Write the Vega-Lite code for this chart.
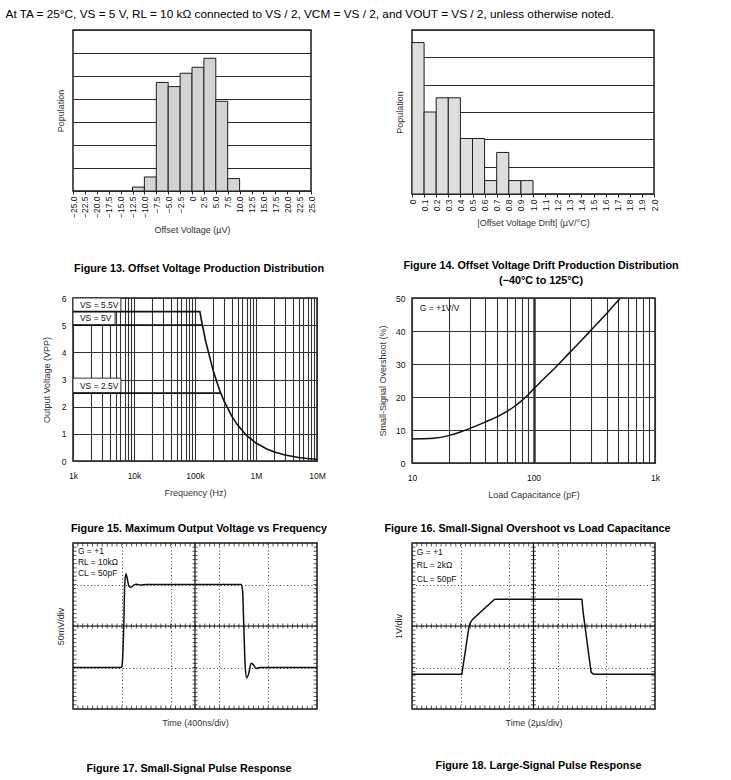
{
  "$schema": "https://vega.github.io/schema/vega-lite/v6.json",
  "background": "white",
  "padding": {"left": 5, "top": 9, "right": 5, "bottom": 5},
  "title": {"text": "At TA = 25°C, VS = 5 V, RL = 10 kΩ connected to VS / 2, VCM = VS / 2, and VOUT = VS / 2, unless otherwise noted.", "anchor": "start", "fontSize": 11.8, "fontWeight": "normal", "color": "#000", "offset": 8, "dx": -36},
  "datasets": {
    "h13": [
      {"x0": -12.5, "x1": -10, "n": 0.17},
      {"x0": -10, "x1": -7.5, "n": 0.61},
      {"x0": -7.5, "x1": -5, "n": 4.72},
      {"x0": -5, "x1": -2.5, "n": 4.54},
      {"x0": -2.5, "x1": 0, "n": 5.12},
      {"x0": 0, "x1": 2.5, "n": 5.38},
      {"x0": 2.5, "x1": 5, "n": 5.77},
      {"x0": 5, "x1": 7.5, "n": 3.9},
      {"x0": 7.5, "x1": 10, "n": 0.54}
    ],
    "h14": [
      {"x0": 0, "x1": 0.1, "n": 5.54},
      {"x0": 0.1, "x1": 0.2, "n": 3.0},
      {"x0": 0.2, "x1": 0.3, "n": 3.52},
      {"x0": 0.3, "x1": 0.4, "n": 3.52},
      {"x0": 0.4, "x1": 0.5, "n": 2.03},
      {"x0": 0.5, "x1": 0.6, "n": 2.03},
      {"x0": 0.6, "x1": 0.7, "n": 0.49},
      {"x0": 0.7, "x1": 0.8, "n": 1.52},
      {"x0": 0.8, "x1": 0.9, "n": 0.49},
      {"x0": 0.9, "x1": 1.0, "n": 0.49}
    ],
    "f15": [
      {"s": "5.5V", "f": 1000, "v": 5.5},
      {"s": "5.5V", "f": 120000, "v": 5.5},
      {"s": "5.5V", "f": 130000, "v": 5.08},
      {"s": "5.5V", "f": 150000, "v": 4.4},
      {"s": "5.5V", "f": 200000, "v": 3.3},
      {"s": "5.5V", "f": 250000, "v": 2.64},
      {"s": "5.5V", "f": 300000, "v": 2.2},
      {"s": "5.5V", "f": 400000, "v": 1.65},
      {"s": "5.5V", "f": 500000, "v": 1.32},
      {"s": "5.5V", "f": 700000, "v": 0.94},
      {"s": "5.5V", "f": 1000000, "v": 0.66},
      {"s": "5.5V", "f": 1500000, "v": 0.44},
      {"s": "5.5V", "f": 2000000, "v": 0.33},
      {"s": "5.5V", "f": 3000000, "v": 0.22},
      {"s": "5.5V", "f": 5000000, "v": 0.13},
      {"s": "5.5V", "f": 7000000, "v": 0.094},
      {"s": "5.5V", "f": 10000000, "v": 0.066},
      {"s": "5V", "f": 1000, "v": 5.0},
      {"s": "5V", "f": 132000, "v": 5.0},
      {"s": "2.5V", "f": 1000, "v": 2.5},
      {"s": "2.5V", "f": 264000, "v": 2.5}
    ],
    "f15box": [
      {"x0": 1000, "x1": 6100, "y0": 5.5, "y1": 6.0, "tx": 1300, "ty": 5.75, "lbl": "VS = 5.5V"},
      {"x0": 1000, "x1": 4900, "y0": 5.0, "y1": 5.5, "tx": 1300, "ty": 5.25, "lbl": "VS = 5V"},
      {"x0": 1000, "x1": 6100, "y0": 2.5, "y1": 3.05, "tx": 1300, "ty": 2.77, "lbl": "VS = 2.5V"}
    ],
    "f16": [
      {"c": 10, "o": 7.3}, {"c": 12, "o": 7.35}, {"c": 15, "o": 7.5}, {"c": 20, "o": 8.3},
      {"c": 25, "o": 9.4}, {"c": 30, "o": 10.5}, {"c": 40, "o": 12.4}, {"c": 50, "o": 14.0},
      {"c": 60, "o": 15.6}, {"c": 70, "o": 17.2}, {"c": 80, "o": 18.9}, {"c": 90, "o": 20.6},
      {"c": 100, "o": 22.4}, {"c": 120, "o": 25.3}, {"c": 150, "o": 28.8}, {"c": 200, "o": 33.6},
      {"c": 250, "o": 37.3}, {"c": 300, "o": 40.4}, {"c": 400, "o": 45.3}, {"c": 500, "o": 49.3},
      {"c": 520, "o": 50.0}
    ],
    "f16txt": [{"tx": 11.6, "ty": 47, "lbl": "G = +1V/V"}],
    "f17": [
      {"t": 0, "v": -2}, {"t": 1.98, "v": -2}, {"t": 2.02, "v": -1.8}, {"t": 2.08, "v": 0},
      {"t": 2.12, "v": 2.0}, {"t": 2.17, "v": 2.52}, {"t": 2.22, "v": 2.3}, {"t": 2.3, "v": 1.9},
      {"t": 2.38, "v": 1.87}, {"t": 2.5, "v": 1.98}, {"t": 2.62, "v": 2.01}, {"t": 2.75, "v": 1.98},
      {"t": 3, "v": 2.0}, {"t": 6.9, "v": 2.0}, {"t": 6.95, "v": 1.7}, {"t": 7.0, "v": 0},
      {"t": 7.06, "v": -2.0}, {"t": 7.12, "v": -2.5}, {"t": 7.2, "v": -2.3}, {"t": 7.3, "v": -1.8},
      {"t": 7.38, "v": -1.85}, {"t": 7.5, "v": -2.05}, {"t": 7.65, "v": -2.0}, {"t": 10, "v": -2}
    ],
    "f17txt": [
      {"tx": 0.2, "ty": 3.6, "lbl": "G = +1"},
      {"tx": 0.2, "ty": 3.08, "lbl": "RL = 10kΩ"},
      {"tx": 0.2, "ty": 2.57, "lbl": "CL = 50pF"}
    ],
    "f18": [
      {"t": 0, "v": -2.33}, {"t": 2.05, "v": -2.33}, {"t": 2.35, "v": 0.0}, {"t": 2.42, "v": 0.2},
      {"t": 2.5, "v": 0.33}, {"t": 3.4, "v": 1.29}, {"t": 6.99, "v": 1.29}, {"t": 7.05, "v": 0.6},
      {"t": 7.37, "v": -2.22}, {"t": 7.45, "v": -2.31}, {"t": 7.55, "v": -2.33}, {"t": 10, "v": -2.33}
    ],
    "f18txt": [
      {"tx": 0.2, "ty": 3.57, "lbl": "G = +1"},
      {"tx": 0.2, "ty": 2.92, "lbl": "RL = 2kΩ"},
      {"tx": 0.2, "ty": 2.25, "lbl": "CL = 50pF"}
    ],
    "tx": [
      {"v": 0.2}, {"v": 0.4}, {"v": 0.6}, {"v": 0.8}, {"v": 1}, {"v": 1.2}, {"v": 1.4}, {"v": 1.6}, {"v": 1.8}, {"v": 2},
      {"v": 2.2}, {"v": 2.4}, {"v": 2.6}, {"v": 2.8}, {"v": 3}, {"v": 3.2}, {"v": 3.4}, {"v": 3.6}, {"v": 3.8}, {"v": 4},
      {"v": 4.2}, {"v": 4.4}, {"v": 4.6}, {"v": 4.8}, {"v": 5}, {"v": 5.2}, {"v": 5.4}, {"v": 5.6}, {"v": 5.8}, {"v": 6},
      {"v": 6.2}, {"v": 6.4}, {"v": 6.6}, {"v": 6.8}, {"v": 7}, {"v": 7.2}, {"v": 7.4}, {"v": 7.6}, {"v": 7.8}, {"v": 8},
      {"v": 8.2}, {"v": 8.4}, {"v": 8.6}, {"v": 8.8}, {"v": 9}, {"v": 9.2}, {"v": 9.4}, {"v": 9.6}, {"v": 9.8}
    ],
    "ty": [
      {"v": -3.8}, {"v": -3.6}, {"v": -3.4}, {"v": -3.2}, {"v": -3}, {"v": -2.8}, {"v": -2.6}, {"v": -2.4}, {"v": -2.2}, {"v": -2},
      {"v": -1.8}, {"v": -1.6}, {"v": -1.4}, {"v": -1.2}, {"v": -1}, {"v": -0.8}, {"v": -0.6}, {"v": -0.4}, {"v": -0.2}, {"v": 0},
      {"v": 0.2}, {"v": 0.4}, {"v": 0.6}, {"v": 0.8}, {"v": 1}, {"v": 1.2}, {"v": 1.4}, {"v": 1.6}, {"v": 1.8}, {"v": 2},
      {"v": 2.2}, {"v": 2.4}, {"v": 2.6}, {"v": 2.8}, {"v": 3}, {"v": 3.2}, {"v": 3.4}, {"v": 3.6}, {"v": 3.8}
    ]
  },
  "columns": 2,
  "spacing": {"row": 6, "column": 47},
  "concat": [
    {
      "width": 238, "height": 161,
      "title": {"text": "Figure 13.  Offset Voltage Production Distribution", "orient": "bottom", "offset": 28, "frame": "group", "dx": 7},
      "data": {"name": "h13"},
      "mark": {"type": "rect", "fill": "#d3d3d3", "stroke": "#1e1e1e", "strokeWidth": 1},
      "encoding": {
        "x": {"field": "x0", "type": "quantitative", "scale": {"domain": [-25, 25], "nice": false, "zero": false},
          "axis": {"title": "Offset Voltage (µV)", "values": [-25, -22.5, -20, -17.5, -15, -12.5, -10, -7.5, -5, -2.5, 0, 2.5, 5, 7.5, 10, 12.5, 15, 17.5, 20, 22.5, 25],
            "labelAngle": -90, "labelAlign": "right", "labelBaseline": "middle", "labelExpr": "datum.value == 0 ? '0' : format(datum.value, '.1f')",
            "labelOverlap": false, "labelFlush": false, "labelBound": false, "grid": false, "ticks": true, "tickSize": 3, "tickColor": "#222", "labelPadding": 2, "titlePadding": 8}},
        "x2": {"field": "x1"},
        "y": {"field": "n", "type": "quantitative", "scale": {"domain": [0, 7], "nice": false},
          "axis": {"title": "Population", "values": [0, 1, 2, 3, 4, 5, 6, 7], "labels": false, "ticks": false, "grid": true, "gridColor": "#2a2a2a", "titlePadding": 8}},
        "y2": {"datum": 0}
      }
    },
    {
      "width": 242, "height": 164,
      "title": {"text": ["Figure 14.  Offset Voltage Drift Production Distribution", "(−40°C to 125°C)"], "orient": "bottom", "offset": 32, "frame": "group", "dx": 8, "lineHeight": 15},
      "data": {"name": "h14"},
      "mark": {"type": "rect", "fill": "#dedede", "stroke": "#1e1e1e", "strokeWidth": 1},
      "encoding": {
        "x": {"field": "x0", "type": "quantitative", "scale": {"domain": [0, 2], "nice": false, "zero": false},
          "axis": {"title": "|Offset Voltage Drift|  (µV/°C)", "values": [0, 0.1, 0.2, 0.3, 0.4, 0.5, 0.6, 0.7, 0.8, 0.9, 1.0, 1.1, 1.2, 1.3, 1.4, 1.5, 1.6, 1.7, 1.8, 1.9, 2.0],
            "labelAngle": -90, "labelAlign": "right", "labelBaseline": "middle", "labelExpr": "datum.value == 0 ? '0' : format(datum.value, '.1f')",
            "labelOverlap": false, "labelFlush": false, "labelBound": false, "grid": false, "ticks": true, "tickSize": 3, "tickColor": "#222", "labelPadding": 2, "titlePadding": 8}},
        "x2": {"field": "x1"},
        "y": {"field": "n", "type": "quantitative", "scale": {"domain": [0, 6], "nice": false},
          "axis": {"title": "Population", "values": [0, 1, 2, 3, 4, 5, 6], "labels": false, "ticks": false, "grid": true, "gridColor": "#2a2a2a", "titlePadding": 8}},
        "y2": {"datum": 0}
      }
    },
    {
      "width": 244, "height": 163,
      "title": {"text": "Figure 15.  Maximum Output Voltage vs Frequency", "orient": "bottom", "offset": 25, "frame": "group", "dx": 4},
      "layer": [
        {
          "data": {"name": "f15box"},
          "mark": {"type": "rect", "fill": "white", "stroke": "#333", "strokeWidth": 1},
          "encoding": {
            "x": {"field": "x0", "type": "quantitative", "title": "Frequency (Hz)", "scale": {"type": "log", "domain": [1000, 10000000], "nice": false},
              "axis": {"values": [1000, 2000, 3000, 4000, 5000, 6000, 7000, 8000, 9000, 10000, 20000, 30000, 40000, 50000, 60000, 70000, 80000, 90000, 100000, 200000, 300000, 400000, 500000, 600000, 700000, 800000, 900000, 1000000, 2000000, 3000000, 4000000, 5000000, 6000000, 7000000, 8000000, 9000000, 10000000],
                "labelExpr": "datum.value == 1000 ? '1k' : datum.value == 10000 ? '10k' : datum.value == 100000 ? '100k' : datum.value == 1000000 ? '1M' : datum.value == 10000000 ? '10M' : ''",
                "labelOverlap": false, "labelFlush": false, "labelBound": false, "ticks": false, "labelPadding": 10, "grid": true, "gridColor": "#333", "gridWidth": 1.1, "titlePadding": 9}},
            "x2": {"field": "x1"},
            "y": {"field": "y0", "type": "quantitative", "title": "Output Voltage (VPP)", "scale": {"domain": [0, 6], "nice": false},
              "axis": {"values": [0, 1, 2, 3, 4, 5, 6], "tickCount": 7, "labelOverlap": false, "labelFlush": false, "labelBound": false, "ticks": false, "labelPadding": 7, "grid": true, "gridColor": "#333", "gridWidth": 1.1, "titlePadding": 10}},
            "y2": {"field": "y1"}
          }
        },
        {
          "data": {"name": "f15"},
          "mark": {"type": "line", "color": "#111", "strokeWidth": 1.6},
          "encoding": {
            "x": {"field": "f", "type": "quantitative", "title": "Frequency (Hz)", "scale": {"type": "log"}},
            "y": {"field": "v", "type": "quantitative", "title": "Output Voltage (VPP)",
              "axis": {"values": [0, 1, 2, 3, 4, 5, 6], "tickCount": 7, "labelOverlap": false, "labelFlush": false, "labelBound": false, "ticks": false, "labelPadding": 7, "grid": true, "gridColor": "#333", "gridWidth": 1.1, "titlePadding": 10}},
            "detail": {"field": "s"}
          }
        },
        {
          "data": {"name": "f15box"},
          "mark": {"type": "text", "align": "left", "baseline": "middle", "fontSize": 8.5, "color": "#111"},
          "encoding": {
            "x": {"field": "tx", "type": "quantitative", "title": "Frequency (Hz)", "scale": {"type": "log"}},
            "y": {"field": "ty", "type": "quantitative", "title": "Output Voltage (VPP)",
              "axis": {"values": [0, 1, 2, 3, 4, 5, 6], "tickCount": 7, "labelOverlap": false, "labelFlush": false, "labelBound": false, "ticks": false, "labelPadding": 7, "grid": true, "gridColor": "#333", "gridWidth": 1.1, "titlePadding": 10}},
            "text": {"field": "lbl"}
          }
        }
      ]
    },
    {
      "width": 243, "height": 165,
      "title": {"text": "Figure 16.  Small-Signal Overshoot vs Load Capacitance", "orient": "bottom", "offset": 23, "frame": "group", "dx": -6},
      "layer": [
        {
          "data": {"name": "f16"},
          "mark": {"type": "line", "color": "#111", "strokeWidth": 1.5, "interpolate": "monotone"},
          "encoding": {
            "x": {"field": "c", "type": "quantitative", "title": "Load Capacitance (pF)", "scale": {"type": "log", "domain": [10, 1000], "nice": false},
              "axis": {"values": [10, 20, 30, 40, 50, 60, 70, 80, 90, 100, 200, 300, 400, 500, 600, 700, 800, 900, 1000],
                "labelExpr": "datum.value == 10 ? '10' : datum.value == 100 ? '100' : datum.value == 1000 ? '1k' : ''",
                "labelOverlap": false, "labelFlush": false, "labelBound": false, "ticks": false, "labelPadding": 10, "grid": true, "gridColor": "#333",
                "gridWidth": {"condition": {"test": "datum.value == 100", "value": 2.5}, "value": 1.1}, "titlePadding": 9}},
            "y": {"field": "o", "type": "quantitative", "title": "Small-Signal Overshoot (%)", "scale": {"domain": [0, 50], "nice": false},
              "axis": {"values": [0, 10, 20, 30, 40, 50], "tickCount": 6, "labelOverlap": false, "labelFlush": false, "labelBound": false, "ticks": false, "labelPadding": 7, "grid": true, "gridColor": "#333", "gridWidth": 1.1, "titlePadding": 8}}
          }
        },
        {
          "data": {"name": "f16txt"},
          "mark": {"type": "text", "align": "left", "baseline": "middle", "fontSize": 8.5, "color": "#111"},
          "encoding": {
            "x": {"field": "tx", "type": "quantitative", "title": "Load Capacitance (pF)", "scale": {"type": "log"}},
            "y": {"field": "ty", "type": "quantitative", "title": "Small-Signal Overshoot (%)",
              "axis": {"values": [0, 10, 20, 30, 40, 50], "tickCount": 6, "labelOverlap": false, "labelFlush": false, "labelBound": false, "ticks": false, "labelPadding": 7, "grid": true, "gridColor": "#333", "gridWidth": 1.1, "titlePadding": 8}},
            "text": {"field": "lbl"}
          }
        }
      ]
    },
    {
      "width": 244, "height": 166,
      "title": {"text": "Figure 17.  Small-Signal Pulse Response", "orient": "bottom", "offset": 36, "frame": "group", "dx": -6},
      "layer": [
        {
          "data": {"name": "f17"},
          "mark": {"type": "line", "color": "#111", "strokeWidth": 1.5, "interpolate": "monotone"},
          "encoding": {
            "x": {"field": "t", "type": "quantitative", "title": "Time (400ns/div)", "scale": {"domain": [0, 10], "nice": false, "zero": false},
              "axis": {"values": [0, 1, 2, 3, 4, 5, 6, 7, 8, 9, 10], "labels": false, "ticks": false, "grid": true, "gridDash": [1, 2.5], "gridColor": "#444", "titlePadding": 9}},
            "y": {"field": "v", "type": "quantitative", "title": "50mV/div", "scale": {"domain": [-4, 4], "nice": false, "zero": false},
              "axis": {"values": [-4, -3, -2, -1, 0, 1, 2, 3, 4], "labels": false, "ticks": false, "grid": true, "gridDash": [1, 2.5], "gridColor": "#444", "titlePadding": 8}}
          }
        },
        {"data": {"values": [{}]}, "mark": {"type": "rule", "color": "#111", "strokeWidth": 1.2}, "encoding": {"x": {"datum": 5}}},
        {"data": {"values": [{}]}, "mark": {"type": "rule", "color": "#111", "strokeWidth": 1.2}, "encoding": {"y": {"datum": 0}}},
        {"data": {"name": "tx"}, "mark": {"type": "tick", "orient": "vertical", "size": 7, "thickness": 1, "color": "#111", "clip": true}, "encoding": {"x": {"field": "v", "type": "quantitative", "title": "Time (400ns/div)"}, "y": {"datum": -4}}},
        {"data": {"name": "tx"}, "mark": {"type": "tick", "orient": "vertical", "size": 7, "thickness": 1, "color": "#111", "clip": true}, "encoding": {"x": {"field": "v", "type": "quantitative", "title": "Time (400ns/div)"}, "y": {"datum": 4}}},
        {"data": {"name": "tx"}, "mark": {"type": "tick", "orient": "vertical", "size": 5, "thickness": 1, "color": "#111"}, "encoding": {"x": {"field": "v", "type": "quantitative", "title": "Time (400ns/div)"}, "y": {"datum": 0}}},
        {"data": {"name": "ty"}, "mark": {"type": "tick", "orient": "horizontal", "size": 7, "thickness": 1, "color": "#111", "clip": true}, "encoding": {"y": {"field": "v", "type": "quantitative", "title": "50mV/div"}, "x": {"datum": 0}}},
        {"data": {"name": "ty"}, "mark": {"type": "tick", "orient": "horizontal", "size": 7, "thickness": 1, "color": "#111", "clip": true}, "encoding": {"y": {"field": "v", "type": "quantitative", "title": "50mV/div"}, "x": {"datum": 10}}},
        {"data": {"name": "ty"}, "mark": {"type": "tick", "orient": "horizontal", "size": 5, "thickness": 1, "color": "#111"}, "encoding": {"y": {"field": "v", "type": "quantitative", "title": "50mV/div"}, "x": {"datum": 5}}},
        {
          "data": {"name": "f17txt"},
          "mark": {"type": "text", "align": "left", "baseline": "middle", "fontSize": 8.5, "color": "#111"},
          "encoding": {
            "x": {"field": "tx", "type": "quantitative", "title": "Time (400ns/div)"},
            "y": {"field": "ty", "type": "quantitative", "title": "50mV/div"},
            "text": {"field": "lbl"}
          }
        }
      ]
    },
    {
      "width": 243, "height": 166,
      "title": {"text": "Figure 18.  Large-Signal Pulse Response", "orient": "bottom", "offset": 33, "frame": "group", "dx": 5},
      "layer": [
        {
          "data": {"name": "f18"},
          "mark": {"type": "line", "color": "#111", "strokeWidth": 1.5},
          "encoding": {
            "x": {"field": "t", "type": "quantitative", "title": "Time (2µs/div)", "scale": {"domain": [0, 10], "nice": false, "zero": false},
              "axis": {"values": [0, 1, 2, 3, 4, 5, 6, 7, 8, 9, 10], "labels": false, "ticks": false, "grid": true, "gridDash": [1, 2.5], "gridColor": "#444", "titlePadding": 9}},
            "y": {"field": "v", "type": "quantitative", "title": "1V/div", "scale": {"domain": [-4, 4], "nice": false, "zero": false},
              "axis": {"values": [-4, -3, -2, -1, 0, 1, 2, 3, 4], "labels": false, "ticks": false, "grid": true, "gridDash": [1, 2.5], "gridColor": "#444", "titlePadding": 9}}
          }
        },
        {"data": {"values": [{}]}, "mark": {"type": "rule", "color": "#111", "strokeWidth": 1.2}, "encoding": {"x": {"datum": 5}}},
        {"data": {"values": [{}]}, "mark": {"type": "rule", "color": "#111", "strokeWidth": 1.2}, "encoding": {"y": {"datum": 0}}},
        {"data": {"name": "tx"}, "mark": {"type": "tick", "orient": "vertical", "size": 7, "thickness": 1, "color": "#111", "clip": true}, "encoding": {"x": {"field": "v", "type": "quantitative", "title": "Time (2µs/div)"}, "y": {"datum": -4}}},
        {"data": {"name": "tx"}, "mark": {"type": "tick", "orient": "vertical", "size": 7, "thickness": 1, "color": "#111", "clip": true}, "encoding": {"x": {"field": "v", "type": "quantitative", "title": "Time (2µs/div)"}, "y": {"datum": 4}}},
        {"data": {"name": "tx"}, "mark": {"type": "tick", "orient": "vertical", "size": 5, "thickness": 1, "color": "#111"}, "encoding": {"x": {"field": "v", "type": "quantitative", "title": "Time (2µs/div)"}, "y": {"datum": 0}}},
        {"data": {"name": "ty"}, "mark": {"type": "tick", "orient": "horizontal", "size": 7, "thickness": 1, "color": "#111", "clip": true}, "encoding": {"y": {"field": "v", "type": "quantitative", "title": "1V/div"}, "x": {"datum": 0}}},
        {"data": {"name": "ty"}, "mark": {"type": "tick", "orient": "horizontal", "size": 7, "thickness": 1, "color": "#111", "clip": true}, "encoding": {"y": {"field": "v", "type": "quantitative", "title": "1V/div"}, "x": {"datum": 10}}},
        {"data": {"name": "ty"}, "mark": {"type": "tick", "orient": "horizontal", "size": 5, "thickness": 1, "color": "#111"}, "encoding": {"y": {"field": "v", "type": "quantitative", "title": "1V/div"}, "x": {"datum": 5}}},
        {
          "data": {"name": "f18txt"},
          "mark": {"type": "text", "align": "left", "baseline": "middle", "fontSize": 8.5, "color": "#111"},
          "encoding": {
            "x": {"field": "tx", "type": "quantitative", "title": "Time (2µs/div)"},
            "y": {"field": "ty", "type": "quantitative", "title": "1V/div"},
            "text": {"field": "lbl"}
          }
        }
      ]
    }
  ],
  "config": {
    "font": "Liberation Sans",
    "view": {"stroke": "#1a1a1a", "strokeWidth": 1.5},
    "axis": {"labelFontSize": 8.5, "labelColor": "#111", "titleFontSize": 9, "titleFontWeight": "normal", "titleColor": "#333", "gridColor": "#333", "gridOpacity": 1, "domain": false, "labelOverlap": false, "labelFont": "Liberation Sans", "titleFont": "Liberation Sans"},
    "title": {"fontSize": 10.8, "fontWeight": "bold", "color": "#000", "font": "Liberation Sans"}
  }
}
